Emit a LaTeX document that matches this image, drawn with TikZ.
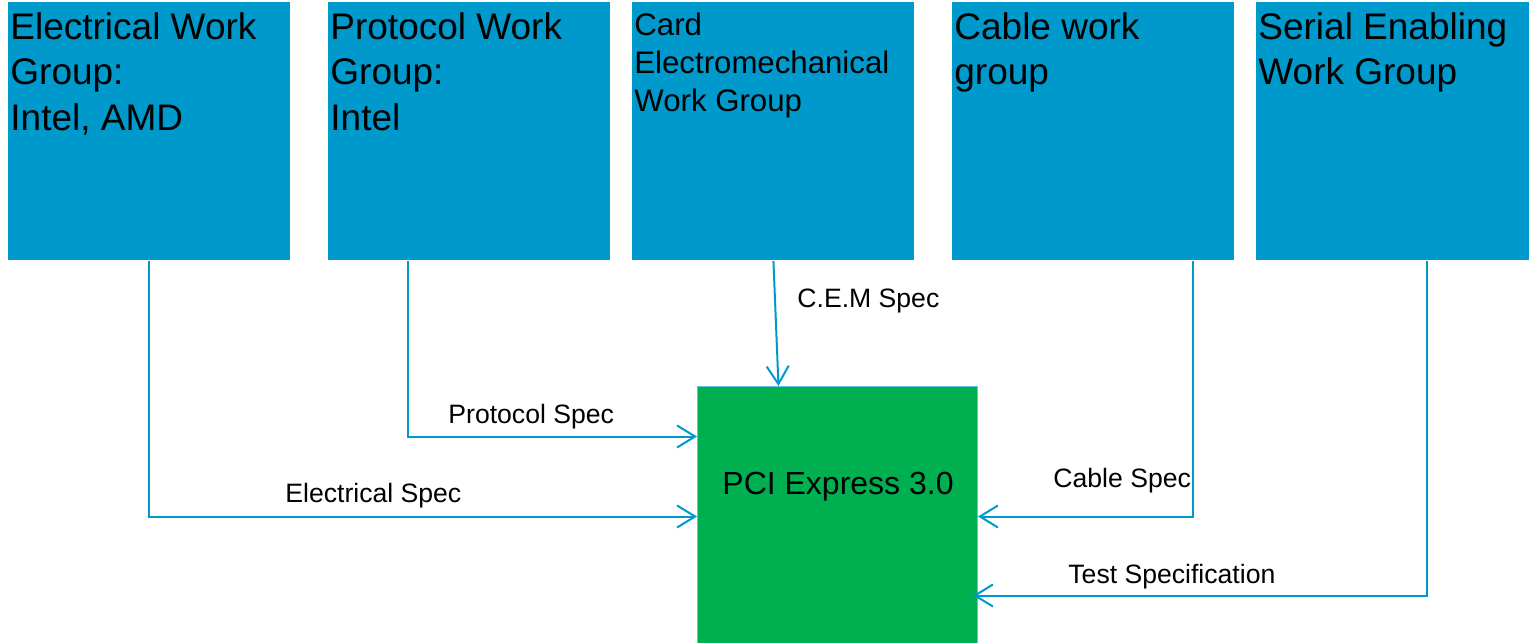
\documentclass[tikz,border=0pt]{standalone}
\usepackage{fontspec}
\setmainfont{Liberation Sans}
\usetikzlibrary{arrows.meta}

\definecolor{wgblue}{RGB}{0,153,204}
\definecolor{specgreen}{RGB}{0,176,80}

\begin{document}
\begin{tikzpicture}[x=0.5pt, y=-0.5pt,
  wgbox/.style = {fill=wgblue, anchor=north west, inner sep=0pt,
    minimum width=141pt, minimum height=129pt},
  wgtext/.style = {anchor=north west, inner xsep=1pt, inner ysep=5pt,
    align=left, font=\fontsize{18.5}{22.75}\selectfont},
  wgsmall/.style = {wgtext, font=\fontsize{15.6}{19.2}\selectfont},
  specline/.style = {draw=wgblue, line width=1pt,
    -{Straight Barb[length=9pt, width=11pt]}},
  speclabel/.style = {anchor=base west, inner sep=0pt,
    font=\fontsize{13.3}{15}\selectfont}]
  \useasboundingbox (0,0) rectangle (1529,642);
  % work groups
  \node[wgbox] (ewg) at (8,2) {};
  \node[wgbox] (pwg) at (328,2) {};
  \node[wgbox] (cwg) at (632,2) {};
  \node[wgbox] (kwg) at (952,2) {};
  \node[wgbox] (swg) at (1256,2) {};
  \node[wgtext] (ewgtext) at (ewg.north west) {Electrical Work\\Group:\\Intel, AMD};
  \node[wgtext] (pwgtext) at (pwg.north west) {Protocol Work\\Group:\\Intel};
  \node[wgsmall] (cwgtext) at (cwg.north west) {Card\\Electromechanical\\Work Group};
  \node[wgtext] (kwgtext) at (kwg.north west) {Cable work\\group};
  \node[wgtext] (swgtext) at (swg.north west) {Serial Enabling\\Work Group};
  % spec
  \node[fill=specgreen, draw=wgblue!60, line width=0.5pt, anchor=north west,
    minimum width=140pt, minimum height=150pt, inner sep=0pt] (pci) at (697,386) {};
  \node[anchor=base west, inner sep=0pt, font=\fontsize{16}{18}\selectfont]
    (pcitext) at (722,494) {PCI Express 3.0};
  % connectors
  \draw[specline] (ewg.south) |- ([yshift=10pt]pci.west);
  \draw[specline] ([xshift=-30.5pt]pwg.south) |- ([yshift=50pt]pci.west);
  \draw[specline] (cwg.south) -- ([xshift=-29.5pt]pci.north);
  \draw[specline] ([xshift=50pt]kwg.south) |- ([yshift=10pt]pci.east);
  \draw[specline] ([xshift=15pt]swg.south) |- ([xshift=-2.5pt, yshift=-29.5pt]pci.east);
  % labels
  \node[speclabel] (elabel) at (285,502) {Electrical Spec};
  \node[speclabel] (plabel) at (448,423) {Protocol Spec};
  \node[speclabel] (clabel) at (797,307) {C.E.M Spec};
  \node[speclabel] (klabel) at (1053,487) {Cable Spec};
  \node[speclabel] (tlabel) at (1068,583) {Test Specification};
\end{tikzpicture}
\end{document}
